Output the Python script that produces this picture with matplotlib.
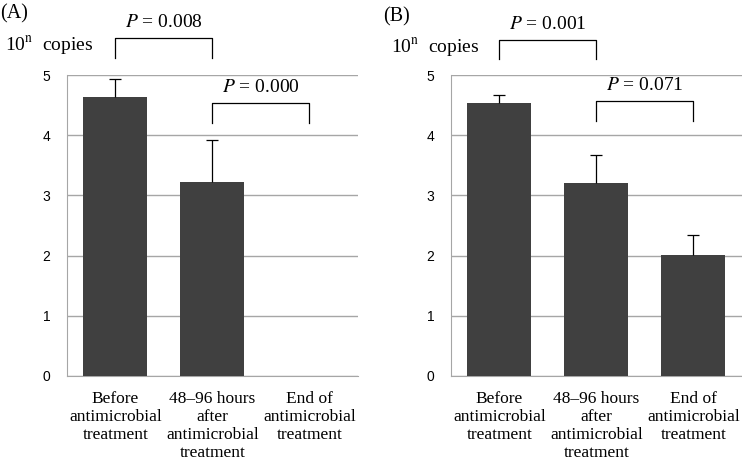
import numpy as np
import matplotlib
matplotlib.use("Agg")
import matplotlib.pyplot as plt

categories = ["Before\nantimicrobial\ntreatment",
              "48\u201396 hours\nafter\nantimicrobial\ntreatment",
              "End of\nantimicrobial\ntreatment"]
vals_a = [4.63, 3.22, 0.0]
err_a = [0.30, 0.70, 0.0]
vals_b = [4.53, 3.20, 2.01]
err_b = [0.14, 0.47, 0.34]
p_a = ["0.008", "0.000"]
p_b = ["0.001", "0.071"]
# bracket heights (top, leg bottom) per panel
br_a = [(5.61, 5.28), (4.53, 4.20)]
br_b = [(5.58, 5.27), (4.57, 4.24)]

plt.rcParams["mathtext.fontset"] = "stix"
serif = "Liberation Serif"
sans = "Liberation Sans"

fig = plt.figure(figsize=(7.42, 4.65), dpi=100)
ax_a = fig.add_axes([0.0903, 0.1914, 0.392, 0.6473])
ax_b = fig.add_axes([0.6078, 0.1914, 0.392, 0.6473])

def panel(ax, vals, err, pvals, brs):
    x = np.arange(len(vals))
    vals = np.array(vals)
    err = np.array(err)
    ax.bar(x, vals, width=0.66, color="#404040", zorder=3)
    m = err > 0
    ax.vlines(x[m], vals[m], vals[m] + err[m], color="black", linewidth=0.9, zorder=4)
    ax.plot(x[m], vals[m] + err[m], ls="none", marker="_", ms=8, mew=0.9,
            color="black", zorder=4)
    ax.set_xlim(-0.5, 2.5)
    ax.set_ylim(0, 5)
    ax.set_yticks([0, 1, 2, 3, 4, 5])
    ax.yaxis.grid(True, color="#a6a6a6", linewidth=1.0, zorder=0)
    ax.set_axisbelow(True)
    for s in ["top", "right"]:
        ax.spines[s].set_visible(False)
    ax.spines["left"].set_color("#a6a6a6")
    ax.spines["bottom"].set_color("#a6a6a6")
    ax.tick_params(axis="both", length=0)
    ax.tick_params(axis="y", pad=12)
    for t in ax.get_yticklabels():
        t.set_fontfamily(sans)
        t.set_fontsize(10)
    ax.set_xticks(x)
    ax.set_xticklabels(categories, family=serif, fontsize=12.5, linespacing=1.16)
    ax.tick_params(axis="x", pad=11)
    for i, (pv, (top, bot)) in enumerate(zip(pvals, brs)):
        ax.plot([i, i, i + 1, i + 1], [bot, top, top, bot], color="black",
                linewidth=0.9, clip_on=False)
        ax.text(i + 0.5, top + 0.12, r"$\it{P}$ = " + pv, ha="center", va="bottom",
                family=serif, fontsize=14, clip_on=False)

panel(ax_a, vals_a, err_a, p_a, br_a)
panel(ax_b, vals_b, err_b, p_b, br_b)

fig.text(0.0, 0.99, "(A)", family=serif, fontsize=14.5, va="top", ha="left")
fig.text(0.516, 0.985, "(B)", family=serif, fontsize=14.5, va="top", ha="left")
fig.text(0.007, 0.902, r"10$^{\rm n}$  copies", family=serif, fontsize=14, va="center", ha="left")
fig.text(0.527, 0.897, r"10$^{\rm n}$  copies", family=serif, fontsize=14, va="center", ha="left")

fig.savefig("out.png", dpi=100)
